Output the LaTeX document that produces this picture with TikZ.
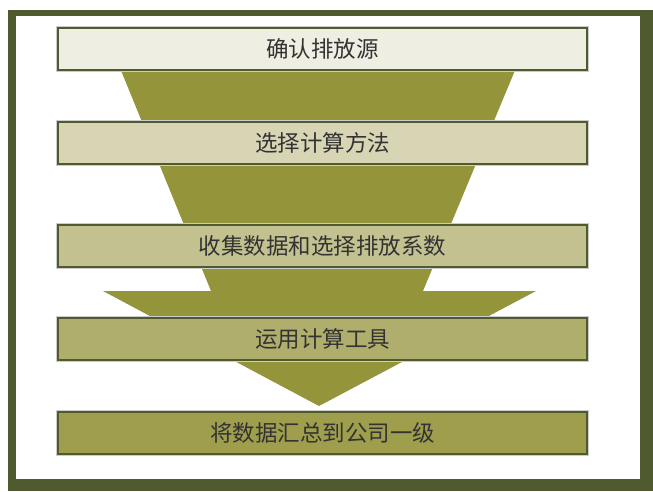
\documentclass[tikz,border=0pt]{standalone}
\usepackage{fontspec}
\newfontfamily\cjk{Noto Sans CJK SC}
\definecolor{frameC}{HTML}{4F5A2F}
\definecolor{funnelC}{HTML}{94943A}
\definecolor{boxA}{HTML}{EEEEE2}
\definecolor{boxB}{HTML}{D8D5B5}
\definecolor{boxC}{HTML}{C3C190}
\definecolor{boxD}{HTML}{B0AE6C}
\definecolor{boxE}{HTML}{9E9E4C}
\definecolor{txtC}{HTML}{333333}
\tikzset{
  stagebox/.style={rectangle, minimum width=529pt, minimum height=42pt, inner sep=0pt,
    draw=frameC, line width=2.5pt,
    preaction={draw=black!20, line width=4pt},
    font=\cjk\fontsize{22.5pt}{25pt}\selectfont, text=txtC}
}
\begin{document}
\begin{tikzpicture}[x=1pt,y=-1pt]
\useasboundingbox (0,0) rectangle (653,491);
% frame
\fill[frameC] (8,10) rectangle (653,491);
\fill[white] (16,15.5) rectangle (640,479);
% funnel
\fill[funnelC] (120,68) -- (516,68) -- (423,291) -- (211,291) -- cycle;
\fill[funnelC] (103,291) -- (536,291) -- (319,406) -- cycle;
% boxes
\node[stagebox, fill=boxA] (s1) at (322.5,49) {确认排放源};
\node[stagebox, fill=boxB] (s2) at (322.5,143) {选择计算方法};
\node[stagebox, fill=boxC] (s3) at (322.5,246) {收集数据和选择排放系数};
\node[stagebox, fill=boxD] (s4) at (322.5,339) {运用计算工具};
\node[stagebox, fill=boxE] (s5) at (322.5,433) {将数据汇总到公司一级};
\end{tikzpicture}
\end{document}
